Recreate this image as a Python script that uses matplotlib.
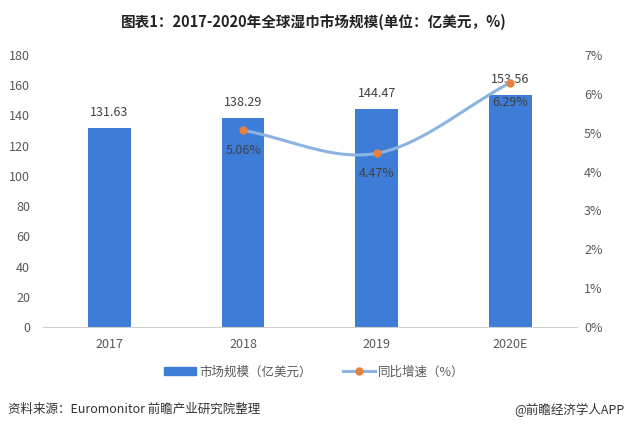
import numpy as np
import matplotlib.pyplot as plt
from matplotlib.lines import Line2D
from matplotlib.patches import Patch

plt.rcParams['font.family'] = ['Noto Sans CJK SC', 'DejaVu Sans']

years = ['2017', '2018', '2019', '2020E']
scale = [131.63, 138.29, 144.47, 153.56]  # 亿美元
growth_years = ['2018', '2019', '2020E']
growth = [5.06, 4.47, 6.29]  # %

bar_color = '#3D7DD8'
line_color = '#8CB4E0'
dot_color = '#E8803F'
grey = '#595959'

fig = plt.figure(figsize=(6.28, 4.30), dpi=100)
ax = fig.add_axes([0.068, 0.2395, 0.851, 0.6325])
ax2 = ax.twinx()

x = np.arange(len(years))
ax.bar(x, scale, width=0.32, color=bar_color, zorder=2)
for xi, v in zip(x, scale):
    ax.text(xi, v + 6, f'{v:.2f}', ha='center', va='bottom', fontsize=9, color='#404040')

ax.set_xlim(-0.5, 3.5)
ax.set_ylim(0, 180)
ax.set_yticks(range(0, 181, 20))
ax.set_xticks(x)
ax.set_xticklabels(years)

# smoothed line through growth points (Catmull-Rom drawing)
gx = np.array([years.index(y) for y in growth_years], dtype=float)
gy = np.array(growth)
px = np.concatenate([[2 * gx[0] - gx[1]], gx, [2 * gx[-1] - gx[-2]]])
py = np.concatenate([[2 * gy[0] - gy[1]], gy, [2 * gy[-1] - gy[-2]]])
sx, sy = [], []
t = np.linspace(0, 1, 40)
for i in range(1, len(px) - 2):
    p0, p1, p2, p3 = [np.array([px[j], py[j]]) for j in range(i - 1, i + 3)]
    seg = 0.5 * ((2 * p1)[:, None] + (-p0 + p2)[:, None] * t
                 + (2 * p0 - 5 * p1 + 4 * p2 - p3)[:, None] * t ** 2
                 + (-p0 + 3 * p1 - 3 * p2 + p3)[:, None] * t ** 3)
    sx.extend(seg[0]); sy.extend(seg[1])
ax2.plot(sx, sy, color=line_color, lw=2.2, zorder=3)
ax2.plot(gx, gy, 'o', color=dot_color, ms=5, zorder=4)
for xi, v in zip(gx, gy):
    ax2.text(xi, v - 0.35, f'{v:.2f}%', ha='center', va='top', fontsize=9, color='#404040')

ax2.set_ylim(0, 7)
ax2.set_yticks(range(0, 8))
ax2.set_yticklabels([f'{i}%' for i in range(0, 8)])

for a in (ax, ax2):
    for s in a.spines.values():
        s.set_visible(False)
    a.tick_params(length=0, colors=grey, labelsize=9)
ax.spines['bottom'].set_visible(True)
ax.spines['bottom'].set_color('#D0D0D0')
ax.tick_params(axis='y', pad=9)
ax.tick_params(axis='x', pad=8)
ax2.tick_params(axis='y', pad=5)

fig.text(0.5, 0.948, '图表1：2017-2020年全球湿巾市场规模(单位：亿美元，%)',
         ha='center', va='center', fontsize=10.5, fontweight='bold', color='#222222')

handles = [Patch(color=bar_color),
           Line2D([], [], color=line_color, lw=2.2, marker='o', mfc=dot_color, mec=dot_color, ms=5)]
fig.legend(handles, ['市场规模（亿美元）', '同比增速（%）'], loc='center',
           bbox_to_anchor=(0.5, 0.135), ncol=2, frameon=False, fontsize=9,
           labelcolor=grey, handlelength=2.6, handleheight=0.5, columnspacing=2.5, handletextpad=0.2)

fig.text(0.012, 0.047, '资料来源：Euromonitor 前瞻产业研究院整理', ha='left', va='center',
         fontsize=9, color='#333333')
fig.text(0.995, 0.047, '@前瞻经济学人APP', ha='right', va='center', fontsize=9, color='#333333')

fig.savefig('out.png', dpi=100)
